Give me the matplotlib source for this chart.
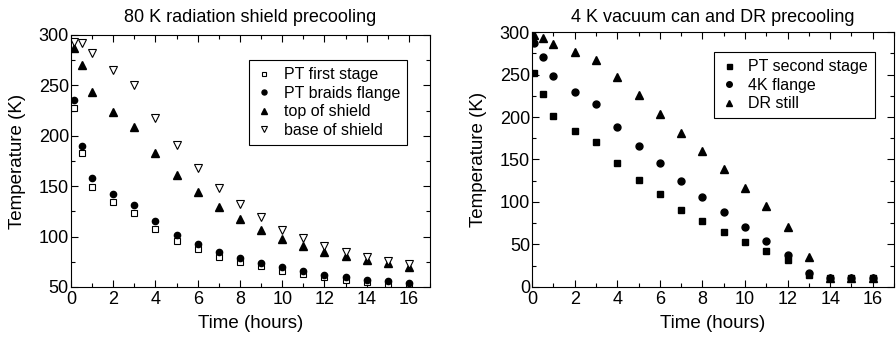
import numpy as np
import matplotlib.pyplot as plt
from matplotlib.ticker import MultipleLocator

plt.rcParams['font.family'] = ['Liberation Sans', 'DejaVu Sans']

# === Data: 80 K radiation shield precooling ===
t_left = [0.15, 0.5, 1, 2, 3, 4, 5, 6, 7, 8, 9, 10, 11, 12, 13, 14, 15, 16]
pt_first = [228, 183, 149, 134, 123, 108, 96, 88, 80, 75, 71, 66, 63, 60, 57, 55, 53, 52]
pt_braids = [236, 190, 158, 142, 131, 115, 102, 93, 85, 79, 74, 69.5, 65.5, 62, 59.5, 57, 55.5, 53.5]
top_shield = [287, 270, 243, 224, 209, 183, 161, 144, 129, 117, 107, 98, 91, 85, 80.5, 77, 74, 69.5]
base_shield = [293, 292, 282, 265, 250, 218, 191, 168, 148, 132, 119, 107, 98.5, 91, 85, 80, 76, 73]

# === Data: 4 K vacuum can and DR precooling ===
t_right = [0.1, 0.5, 1, 2, 3, 4, 5, 6, 7, 8, 9, 10, 11, 12, 13, 14, 15, 16]
pt_second = [252, 227, 201, 184, 170, 146, 126, 109, 91, 78, 65, 53, 42, 31.5, 14.5, 11, 11, 11]
flange_4k = [287, 271, 248, 230, 215, 188, 166, 146, 125, 106, 88.5, 71, 54, 38, 16, 11, 11, 11]
dr_still = [296, 293, 286, 277, 267, 247, 226, 204, 181, 160, 139, 117, 95, 71, 35, 11, 11, 11]

fig = plt.figure(figsize=(8.96, 3.39), dpi=100)
ax1 = fig.add_axes([0.0792, 0.1534, 0.4008, 0.7434])
ax2 = fig.add_axes([0.5938, 0.1534, 0.4040, 0.7522])

ax1.plot(t_left, pt_first, 's', ms=4.2, mfc='white', mec='black', mew=0.8, label='PT first stage')
ax1.plot(t_left, pt_braids, 'o', ms=4.5, color='black', label='PT braids flange')
ax1.plot(t_left, top_shield, '^', ms=5.5, color='black', label='top of shield')
ax1.plot(t_left, base_shield, 'v', ms=5.5, mfc='white', mec='black', mew=0.8, label='base of shield')
ax1.set_xlim(0, 17)
ax1.set_ylim(50, 300)
ax1.set_title('80 K radiation shield precooling', fontsize=13, pad=9)

ax2.plot(t_right, pt_second, 's', ms=4.5, color='black', label='PT second stage')
ax2.plot(t_right, flange_4k, 'o', ms=5, color='black', label='4K flange')
ax2.plot(t_right, dr_still, '^', ms=5.5, color='black', label='DR still')
ax2.set_xlim(0, 17)
ax2.set_ylim(0, 300)
ax2.set_title('4 K vacuum can and DR precooling', fontsize=13, pad=7)

legend_anchor = {ax1: (0.936, 0.901), ax2: (0.9475, 0.9216)}

for ax in (ax1, ax2):
    ax.set_xlabel('Time (hours)', fontsize=13.5, labelpad=5)
    ax.set_ylabel('Temperature (K)', fontsize=13.5, labelpad=9)
    ax.xaxis.set_major_locator(MultipleLocator(2))
    ax.xaxis.set_minor_locator(MultipleLocator(1))
    ax.yaxis.set_major_locator(MultipleLocator(50))
    ax.yaxis.set_minor_locator(MultipleLocator(25))
    ax.tick_params(which='both', direction='in', top=True, right=True, labelsize=13)
    ax.tick_params(which='major', length=5, width=0.8)
    ax.tick_params(axis='y', which='major', pad=1.5)
    ax.tick_params(axis='x', which='major', pad=3)
    ax.tick_params(which='minor', length=3, width=0.8)
    for s in ax.spines.values():
        s.set_linewidth(0.8)
    leg = ax.legend(loc='upper right', bbox_to_anchor=legend_anchor[ax], borderaxespad=0,
                    fontsize=11.5, frameon=True, fancybox=False,
                    edgecolor='black', framealpha=1, markerscale=0.8, handletextpad=0.7,
                    borderpad=0.45, labelspacing=0.22, handlelength=1.0)
    leg.get_frame().set_linewidth(0.8)

fig.savefig('out.png', dpi=100)
